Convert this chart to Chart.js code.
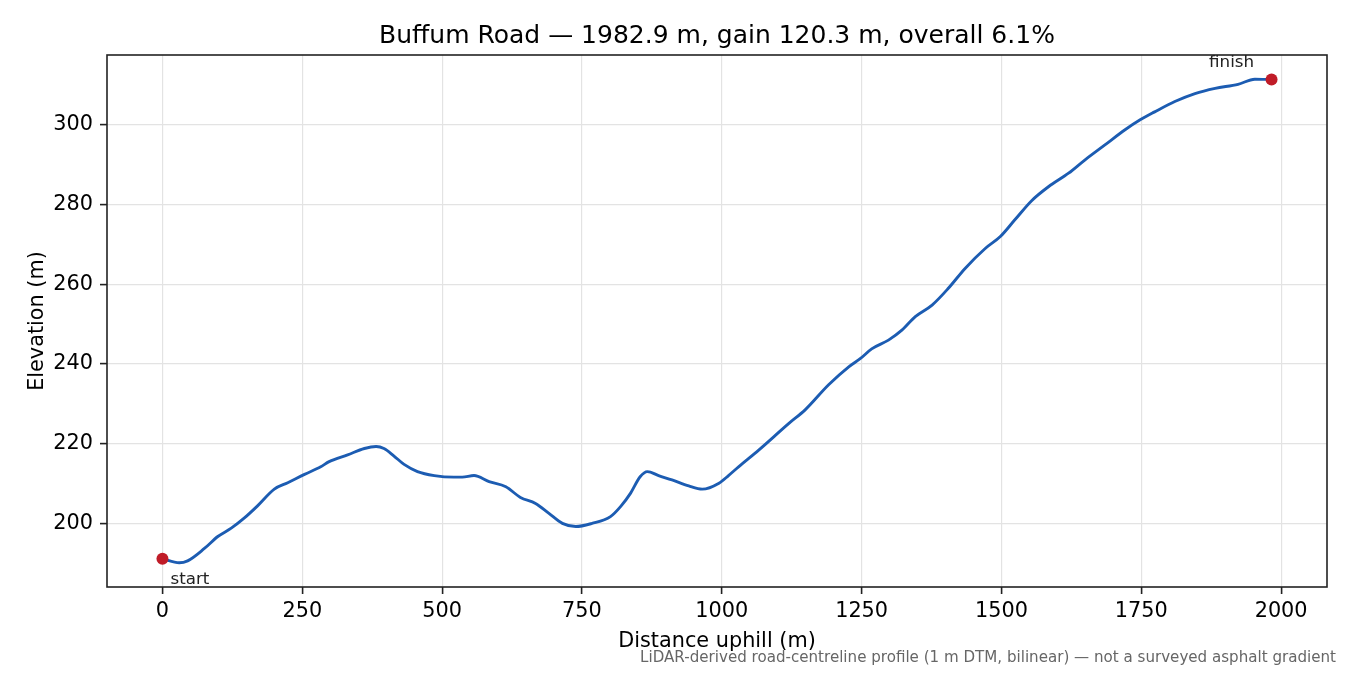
<!DOCTYPE html>
<html>
<head>
<meta charset="utf-8">
<script src="https://cdn.jsdelivr.net/npm/chart.js@4.4.1/dist/chart.umd.min.js"></script>
<style>
  html, body { margin: 0; padding: 0; background: #fff; }
  #wrap { width: 1350px; height: 675px; }
</style>
</head>
<body>
<div id="wrap"><canvas id="c" width="1350" height="675"></canvas></div>
<script>
// ---- data ----
const distance = [0, 30, 45, 75, 99, 123, 146, 170, 200, 224, 254, 283, 298, 331, 361, 382, 396, 414, 432, 456, 486, 521, 536, 557, 584, 614, 640, 667, 691, 715, 739, 768, 801, 819, 837, 854, 867, 887, 911, 941, 965, 995, 1012, 1030, 1066, 1120, 1149, 1191, 1227, 1248, 1268, 1298, 1322, 1346, 1376, 1405, 1435, 1471, 1498, 1524, 1554, 1584, 1620, 1649, 1685, 1721, 1748, 1774, 1810, 1846, 1882, 1923, 1953, 1982.9];
const elevation = [191.1, 190.1, 190.6, 193.7, 196.7, 198.8, 201.3, 204.4, 208.6, 210.2, 212.3, 214.2, 215.5, 217.2, 218.8, 219.3, 218.8, 216.9, 214.8, 213.0, 212.0, 211.6, 211.6, 212.0, 210.5, 209.2, 206.5, 205.0, 202.5, 200.0, 199.2, 200.0, 201.7, 204.2, 207.6, 211.7, 213.0, 212.0, 210.9, 209.4, 208.6, 210.1, 212.0, 214.2, 218.4, 225.1, 228.5, 234.8, 239.3, 241.4, 243.8, 246.0, 248.5, 251.9, 254.8, 259.0, 264.0, 269.0, 272.0, 276.2, 281.0, 284.5, 287.9, 291.2, 295.0, 298.8, 301.3, 303.3, 305.9, 307.9, 309.2, 310.2, 311.5, 311.4];
const endpointLabels = ["start", "finish"];
const xTicks = [0, 250, 500, 750, 1000, 1250, 1500, 1750, 2000];
const yTicks = [200, 220, 240, 260, 280, 300];
const titleText = "Buffum Road \u2014 1982.9 m, gain 120.3 m, overall 6.1%";
const xLabel = "Distance uphill (m)";
const yLabel = "Elevation (m)";
const footnote = "LiDAR-derived road-centreline profile (1 m DTM, bilinear) \u2014 not a surveyed asphalt gradient";

const FONT = "'DejaVu Sans', sans-serif";
const lineData = distance.map((d, i) => ({x: d, y: elevation[i]}));
const endIdx = [0, distance.length - 1];
const endData = endIdx.map(i => ({x: distance[i], y: elevation[i]}));

const xRange = distance[distance.length - 1] - distance[0];
const yMin = Math.min(...elevation), yMax = Math.max(...elevation);
const yRange = yMax - yMin;

const textPlugin = {
  id: 'texts',
  afterDraw(chart) {
    const ctx = chart.ctx;
    const a = chart.chartArea;
    const xs = chart.scales.x, ys = chart.scales.y;
    ctx.save();
    // frame
    ctx.strokeStyle = '#222';
    ctx.lineWidth = 1.6;
    ctx.strokeRect(a.left, a.top, a.right - a.left, a.bottom - a.top);
    // title
    ctx.fillStyle = '#000';
    ctx.font = `25px ${FONT}`;
    ctx.textAlign = 'center';
    ctx.textBaseline = 'alphabetic';
    ctx.fillText(titleText, (a.left + a.right) / 2, 42.5);
    // x label
    ctx.font = `20.8px ${FONT}`;
    ctx.fillText(xLabel, (a.left + a.right) / 2, 647);
    // y label
    ctx.save();
    ctx.translate(43, (a.top + a.bottom) / 2);
    ctx.rotate(-Math.PI / 2);
    ctx.fillText(yLabel, 0, 0);
    ctx.restore();
    // footnote
    ctx.font = `15.1px ${FONT}`;
    ctx.fillStyle = '#666';
    ctx.textAlign = 'right';
    ctx.fillText(footnote, 1336, 661.5);
    // endpoint annotations
    ctx.font = `16.7px ${FONT}`;
    ctx.fillStyle = '#222';
    const sx = xs.getPixelForValue(endData[0].x), sy = ys.getPixelForValue(endData[0].y);
    ctx.textAlign = 'left';
    ctx.fillText(endpointLabels[0], sx + 8, sy + 25);
    const fx = xs.getPixelForValue(endData[1].x), fy = ys.getPixelForValue(endData[1].y);
    ctx.textAlign = 'center';
    ctx.fillText(endpointLabels[1], fx - 40, fy - 12.5);
    ctx.restore();
  }
};

new Chart(document.getElementById('c'), {
  type: 'line',
  data: {
    datasets: [
      {
        data: lineData,
        borderColor: '#1c5cb2',
        borderWidth: 2.9,
        pointRadius: 0,
        fill: false,
        cubicInterpolationMode: 'monotone',
        order: 2
      },
      {
        data: endData,
        showLine: false,
        pointRadius: 6,
        pointBackgroundColor: '#c01c28',
        pointBorderColor: '#c01c28',
        pointBorderWidth: 0,
        order: 1
      }
    ]
  },
  options: {
    responsive: false,
    animation: false,
    devicePixelRatio: 1,
    layout: { padding: { left: 0, right: 23, top: 55, bottom: 0 } },
    plugins: { legend: { display: false }, tooltip: { enabled: false }, title: { display: false } },
    scales: {
      x: {
        type: 'linear',
        min: distance[0] - 0.05 * xRange,
        max: distance[distance.length - 1] + 0.05 * xRange,
        afterFit(s) { s.height = 88; },
        afterBuildTicks(s) { s.ticks = xTicks.map(v => ({value: v})); },
        grid: { color: '#e3e3e3', lineWidth: 1.2, tickColor: '#222', tickLength: 7, tickWidth: 1.6 },
        border: { display: false },
        ticks: { font: { family: FONT, size: 20.8 }, color: '#000', padding: 5, maxRotation: 0, autoSkip: false,
                 callback: v => String(v) }
      },
      y: {
        type: 'linear',
        min: yMin - 0.05 * yRange,
        max: yMax + 0.05 * yRange,
        afterFit(s) { s.width = 107; },
        afterBuildTicks(s) { s.ticks = yTicks.map(v => ({value: v})); },
        grid: { color: '#e3e3e3', lineWidth: 1.2, tickColor: '#222', tickLength: 7, tickWidth: 1.6 },
        border: { display: false },
        ticks: { font: { family: FONT, size: 20.8 }, color: '#000', padding: 7, autoSkip: false,
                 callback: v => String(v) }
      }
    }
  },
  plugins: [textPlugin]
});
</script>
</body>
</html>
